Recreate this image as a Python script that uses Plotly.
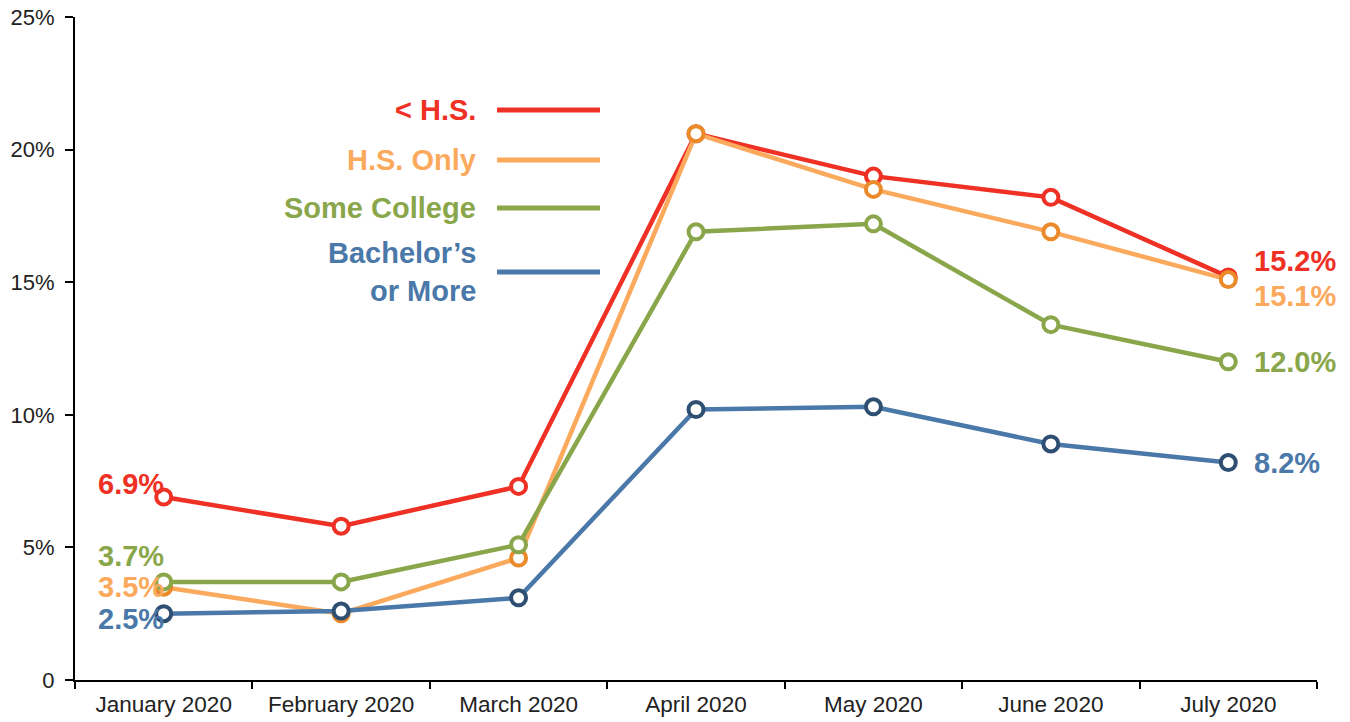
import plotly.graph_objects as go

months = ["January 2020", "February 2020", "March 2020", "April 2020",
          "May 2020", "June 2020", "July 2020"]
less_hs = [6.9, 5.8, 7.3, 20.6, 19.0, 18.2, 15.2]
hs_only = [3.5, 2.5, 4.6, 20.6, 18.5, 16.9, 15.1]
some_college = [3.7, 3.7, 5.1, 16.9, 17.2, 13.4, 12.0]
bachelors = [2.5, 2.6, 3.1, 10.2, 10.3, 8.9, 8.2]
y_ticks = [0, 5, 10, 15, 20, 25]
y_tick_text = ["0", "5%", "10%", "15%", "20%", "25%"]

series_names = ["< H.S.", "H.S. Only", "Some College", "Bachelor’s<br>or More"]
series_values = [less_hs, hs_only, some_college, bachelors]

# styles
line_colors = ["#ee3124", "#fba95d", "#8aa64a", "#4a78a8"]
marker_colors = ["#ee3124", "#ea8a2a", "#8aa64a", "#2e4f72"]
label_colors = ["#ee3124", "#fba95d", "#8aa64a", "#4a78a8"]
left_yshift = [13, 0, 26, -5]
right_yshift = [16, -16, 0, 0]
legend_y = [0.8597, 0.7843, 0.7119, 0.6154]

FONT = "Helvetica, Arial, Liberation Sans, sans-serif"
BOLD_SIZE = 29

fig = go.Figure()
for name, vals, lc, mc in zip(series_names, series_values, line_colors, marker_colors):
    fig.add_trace(go.Scatter(
        x=months, y=vals, mode="lines+markers", name=name,
        line=dict(color=lc, width=4.5),
        marker=dict(size=15, color="white", line=dict(color=mc, width=4)),
        showlegend=False,
    ))

annotations = []
for i, vals in enumerate(series_values):
    annotations.append(dict(
        x=months[0], y=vals[0], xref="x", yref="y",
        text=f"{vals[0]:.1f}%", showarrow=False, xanchor="right", yanchor="middle",
        xshift=2, yshift=left_yshift[i],
        font=dict(family=FONT, size=BOLD_SIZE, color=label_colors[i], weight="bold"),
    ))
    annotations.append(dict(
        x=months[-1], y=vals[-1], xref="x", yref="y",
        text=f"{vals[-1]:.1f}%", showarrow=False, xanchor="left", yanchor="middle",
        xshift=24, yshift=right_yshift[i],
        font=dict(family=FONT, size=BOLD_SIZE, color=label_colors[i], weight="bold"),
    ))
    annotations.append(dict(
        x=0.3245, y=legend_y[i], xref="paper", yref="paper",
        text=series_names[i], showarrow=False, xanchor="right", yanchor="middle",
        align="right",
        font=dict(family=FONT, size=BOLD_SIZE, color=label_colors[i], weight="bold"),
    ))

shapes = []
for i in range(4):
    shapes.append(dict(
        type="line", xref="paper", yref="paper",
        x0=0.3398, x1=0.4227, y0=legend_y[i], y1=legend_y[i],
        line=dict(color=line_colors[i], width=5),
    ))

fig.update_layout(
    width=1350, height=722,
    margin=dict(l=75, r=33, t=17, b=42, autoexpand=False),
    plot_bgcolor="white", paper_bgcolor="white",
    annotations=annotations, shapes=shapes,
    font=dict(family=FONT, color="#222222"),
)
fig.update_xaxes(
    type="category", range=[-0.5, 6.5], automargin=False,
    showline=True, linecolor="black", linewidth=2,
    ticks="outside", tickson="boundaries", ticklen=7, tickwidth=2, tickcolor="black",
    showgrid=False, zeroline=False, ticklabelstandoff=3,
    tickfont=dict(family=FONT, size=22.5, color="#222222"),
)
fig.update_yaxes(
    range=[0, 25], tickvals=y_ticks, ticktext=y_tick_text, automargin=False,
    showline=True, linecolor="black", linewidth=2,
    ticks="outside", ticklen=8, tickwidth=2, tickcolor="black",
    showgrid=False, zeroline=False, ticklabelstandoff=6,
    ticklabeloverflow="allow",
    tickfont=dict(family=FONT, size=22, color="#222222"),
)

# remove the default 8px page margin so the figure sits at the window's corner
fig.write_html("out.html",
               config={"displayModeBar": False},
               post_script="document.body.style.margin='0';document.body.style.padding='0';")
